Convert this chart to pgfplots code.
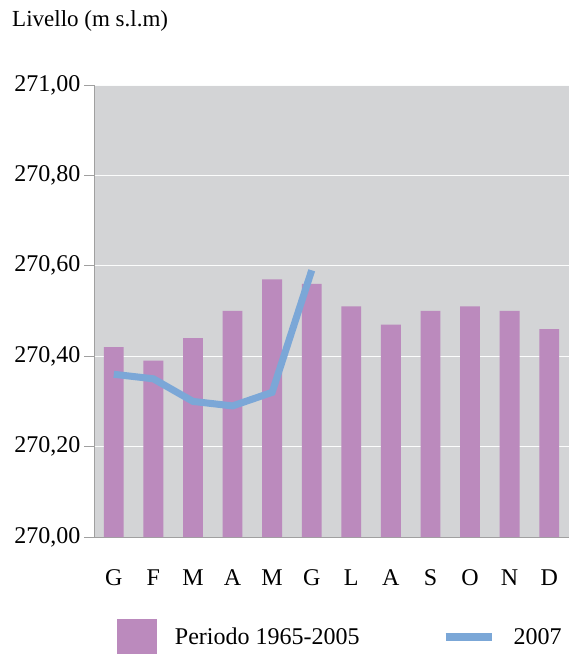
\documentclass[border=0pt]{standalone}
\usepackage{pgfplots}
\pgfplotsset{compat=1.18}
\usepackage{fontspec}
\setmainfont{Liberation Serif}
\definecolor{barc}{HTML}{BB8ABD}
\definecolor{linec}{HTML}{7BA7D7}
\definecolor{bgc}{HTML}{D3D4D6}
\definecolor{axc}{HTML}{A0A0A0}
\begin{document}
\begin{tikzpicture}[x=1bp,y=1bp]
\useasboundingbox (-94,-118) rectangle (475,537);
\node[anchor=west,inner sep=0pt,font=\fontsize{23bp}{26bp}\selectfont] at (-82,516) {Livello (m s.l.m)};
\begin{axis}[
  at={(0,0)}, anchor=south west,
  scale only axis, width=475bp, height=452bp,
  xmin=-0.5, xmax=11.5, ymin=270, ymax=271,
  axis background/.style={fill=bgc},
  axis lines*=left,
  axis line style={axc, line width=1pt},
  tick align=outside,
  xtick={0,...,11},
  xticklabels={G,F,M,A,M,G,L,A,S,O,N,D},
  x tick style={draw=none},
  minor xtick={-0.5,0.5,...,11.5},
  minor x tick style={axc, line width=0.8pt},
  minor tick length=13bp,
  ytick={270,270.2,...,271},
  y tick style={axc, line width=0.8pt},
  major tick length=10bp,
  ymajorgrids,
  grid style={white!92!bgc, line width=0.8pt},
  yticklabel style={/pgf/number format/.cd, fixed, fixed zerofill, precision=2, use comma, assume math mode=true},
  ticklabel style={font=\fontsize{24bp}{26bp}\selectfont, black},
  xticklabel style={yshift=-19bp},
  legend columns=2,
  legend style={at={(axis description cs:0.048,-0.221)}, anchor=west, draw=none, fill=none, inner sep=0pt,
    font=\fontsize{24bp}{26bp}\selectfont,
    /tikz/every odd column/.append style={column sep=16bp},
    /tikz/every even column/.append style={column sep=80bp}},
]
\addplot[ybar, bar width=0.5, fill=barc, draw=none,
  legend image code/.code={\fill[barc] (0bp,-17.5bp) rectangle (40bp,17.5bp);}]
  coordinates {(0,270.42) (1,270.39) (2,270.44) (3,270.50) (4,270.57) (5,270.56) (6,270.51) (7,270.47) (8,270.50) (9,270.51) (10,270.50) (11,270.46)};
\addlegendentry{Periodo 1965-2005}
\addplot[linec, line width=7bp, mark=none,
  legend image code/.code={\draw[linec, line width=8bp] (0bp,0bp) -- (46bp,0bp);}]
  coordinates {(0,270.36) (1,270.35) (2,270.30) (3,270.29) (4,270.32) (5,270.59)};
\addlegendentry{2007}
\end{axis}
\end{tikzpicture}
\end{document}
